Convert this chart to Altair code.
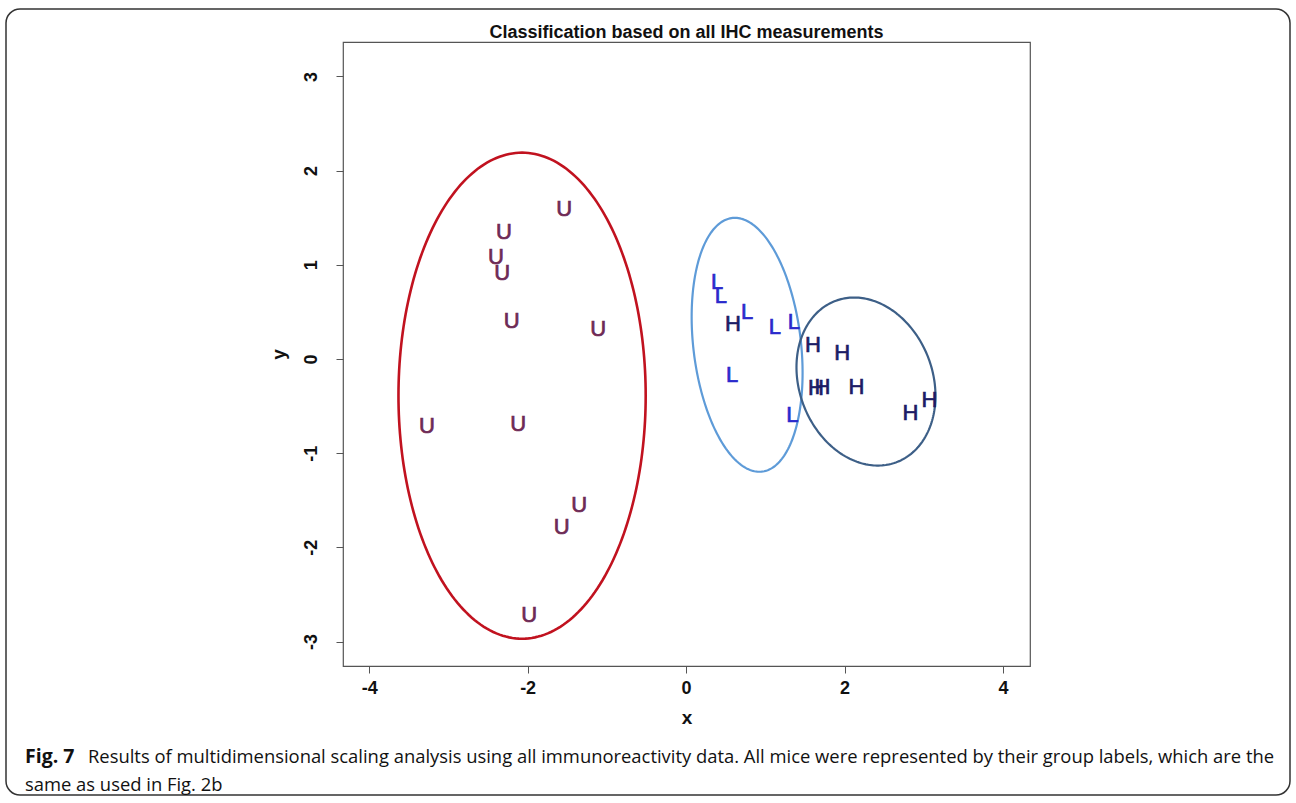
import numpy as np
import pandas as pd
import altair as alt

# ---- data ----
groups = ["U"] * 11 + ["L"] * 7 + ["H"] * 8
xs = [-1.54, -2.30, -2.40, -2.32, -2.20, -1.11, -3.27, -2.12, -1.35, -1.57, -1.98,
      0.39, 0.44, 0.77, 1.12, 1.36, 0.58, 1.34,
      0.59, 1.60, 1.97, 1.64, 1.72, 2.15, 2.83, 3.07]
ys = [1.59, 1.35, 1.08, 0.91, 0.40, 0.32, -0.71, -0.69, -1.55, -1.78, -2.72,
      0.82, 0.67, 0.50, 0.34, 0.39, -0.17, -0.59,
      0.37, 0.15, 0.06, -0.31, -0.30, -0.30, -0.57, -0.44]

# ellipse parameters: name, centre x, centre y, half width, half height, tilt (cos phi)
ell_names = ["red", "lightblue", "darkblue"]
ell_cx = [-2.07, 0.77, 2.27]
ell_cy = [-0.39, 0.15, -0.24]
ell_rx = [1.56, 0.70, 0.877]
ell_ry = [2.58, 1.348, 0.892]
ell_cosphi = [0.0, -0.22, -0.17]
ell_colors = ["#C1121F", "#5E9BD8", "#3D5F87"]
ell_widths = [2.6, 2.2, 2.2]

x_ticks = [-4, -2, 0, 2, 4]
y_ticks = [-3, -2, -1, 0, 1, 2, 3]

title_text = "Classification based on all IHC measurements"
caption_bold = "Fig. 7"
caption_1 = ("Results of multidimensional scaling analysis using all immunoreactivity data. "
             "All mice were represented by their group labels, which are the")
caption_2 = "same as used in Fig. 2b"

points = pd.DataFrame({"x": xs, "y": ys, "g": groups})

rows = []
t = np.linspace(0, 2 * np.pi, 241)
for name, cx, cy, rx, ry, cp in zip(ell_names, ell_cx, ell_cy, ell_rx, ell_ry, ell_cosphi):
    phi = np.arccos(cp)
    for i, tt in enumerate(t):
        rows.append({"e": name, "i": i,
                     "x": cx + rx * np.cos(tt),
                     "y": cy + ry * np.cos(tt - phi)})
ell = pd.DataFrame(rows)

xscale = alt.Scale(domain=[-4.33, 4.34], nice=False, zero=False)
yscale = alt.Scale(domain=[-3.26, 3.365], nice=False, zero=False)

xaxis = alt.Axis(values=x_ticks, title="x", grid=False, domain=False,
                 labelExpr="'' + datum.value",
                 tickSize=7, tickColor="#555", labelFont="Liberation Sans",
                 labelFontWeight="bold", labelFontSize=18, labelColor="#111",
                 labelPadding=6, titleFont="Liberation Sans", titleFontSize=19,
                 titleFontWeight="bold", titleColor="#111", titlePadding=11)
yaxis = alt.Axis(values=y_ticks, title="y", grid=False, domain=False,
                 labelExpr="'' + datum.value",
                 tickSize=7, tickColor="#555", labelFont="Liberation Sans",
                 labelFontWeight="bold", labelFontSize=18, labelColor="#111",
                 labelAngle=-90, labelAlign="center", labelBaseline="bottom",
                 labelPadding=16, titleFont="Liberation Sans", titleFontSize=19,
                 titleFontWeight="bold", titleColor="#111", titlePadding=14)

base_layers = []
for name, col, w in zip(ell_names, ell_colors, ell_widths):
    base_layers.append(
        alt.Chart(ell[ell.e == name]).mark_line(color=col, strokeWidth=w).encode(
            x=alt.X("x:Q", scale=xscale, axis=xaxis),
            y=alt.Y("y:Q", scale=yscale, axis=yaxis),
            order="i:Q",
        )
    )

letter_colors = alt.Scale(domain=["U", "L", "H"], range=["#6E2A55", "#2A2ACC", "#1C1C66"])
letters = alt.Chart(points).mark_text(font="Liberation Sans", fontSize=22,
                                      strokeWidth=0.7,
                                      baseline="middle", align="center").encode(
    x=alt.X("x:Q", scale=xscale),
    y=alt.Y("y:Q", scale=yscale),
    text="g:N",
    color=alt.Color("g:N", scale=letter_colors, legend=None),
    stroke=alt.Stroke("g:N", scale=letter_colors, legend=None),
)

one = pd.DataFrame({"a": [0]})
frame = alt.Chart(one).mark_rect(fill="transparent", stroke="#333", strokeWidth=1.5,
                                 cornerRadius=14).encode(
    x=alt.value(-337), x2=alt.value(947), y=alt.value(-33), y2=alt.value(753))

title_mark = alt.Chart(pd.DataFrame({"t": [title_text]})).mark_text(
    font="Liberation Sans", fontSize=18, fontWeight="bold", align="center",
    baseline="middle", color="#111").encode(
    x=alt.value(343.5), y=alt.value(-9), text="t:N")

cap_b = alt.Chart(pd.DataFrame({"t": [caption_bold]})).mark_text(
    font="Open Sans", fontSize=19.5, fontWeight="bold", align="left",
    baseline="middle", color="#111").encode(
    x=alt.value(-318), y=alt.value(715), text="t:N")
cap_1 = alt.Chart(pd.DataFrame({"t": [caption_1]})).mark_text(
    font="Open Sans", fontSize=18.4, align="left", baseline="middle",
    color="#111").encode(x=alt.value(-255), y=alt.value(715), text="t:N")
cap_2 = alt.Chart(pd.DataFrame({"t": [caption_2]})).mark_text(
    font="Open Sans", fontSize=18.4, align="left", baseline="middle",
    color="#111").encode(x=alt.value(-318), y=alt.value(743), text="t:N")

chart = alt.layer(*base_layers, letters, frame, title_mark, cap_b, cap_1, cap_2).properties(
    width=687, height=624,
    background="white",
    autosize=alt.AutoSizeParams(type="none"),
    padding={"left": 343, "top": 42, "right": 266, "bottom": 137},
).configure_view(stroke="#555", strokeWidth=1.2)

chart.save("out.html", embed_options={"renderer": "svg", "actions": False})
